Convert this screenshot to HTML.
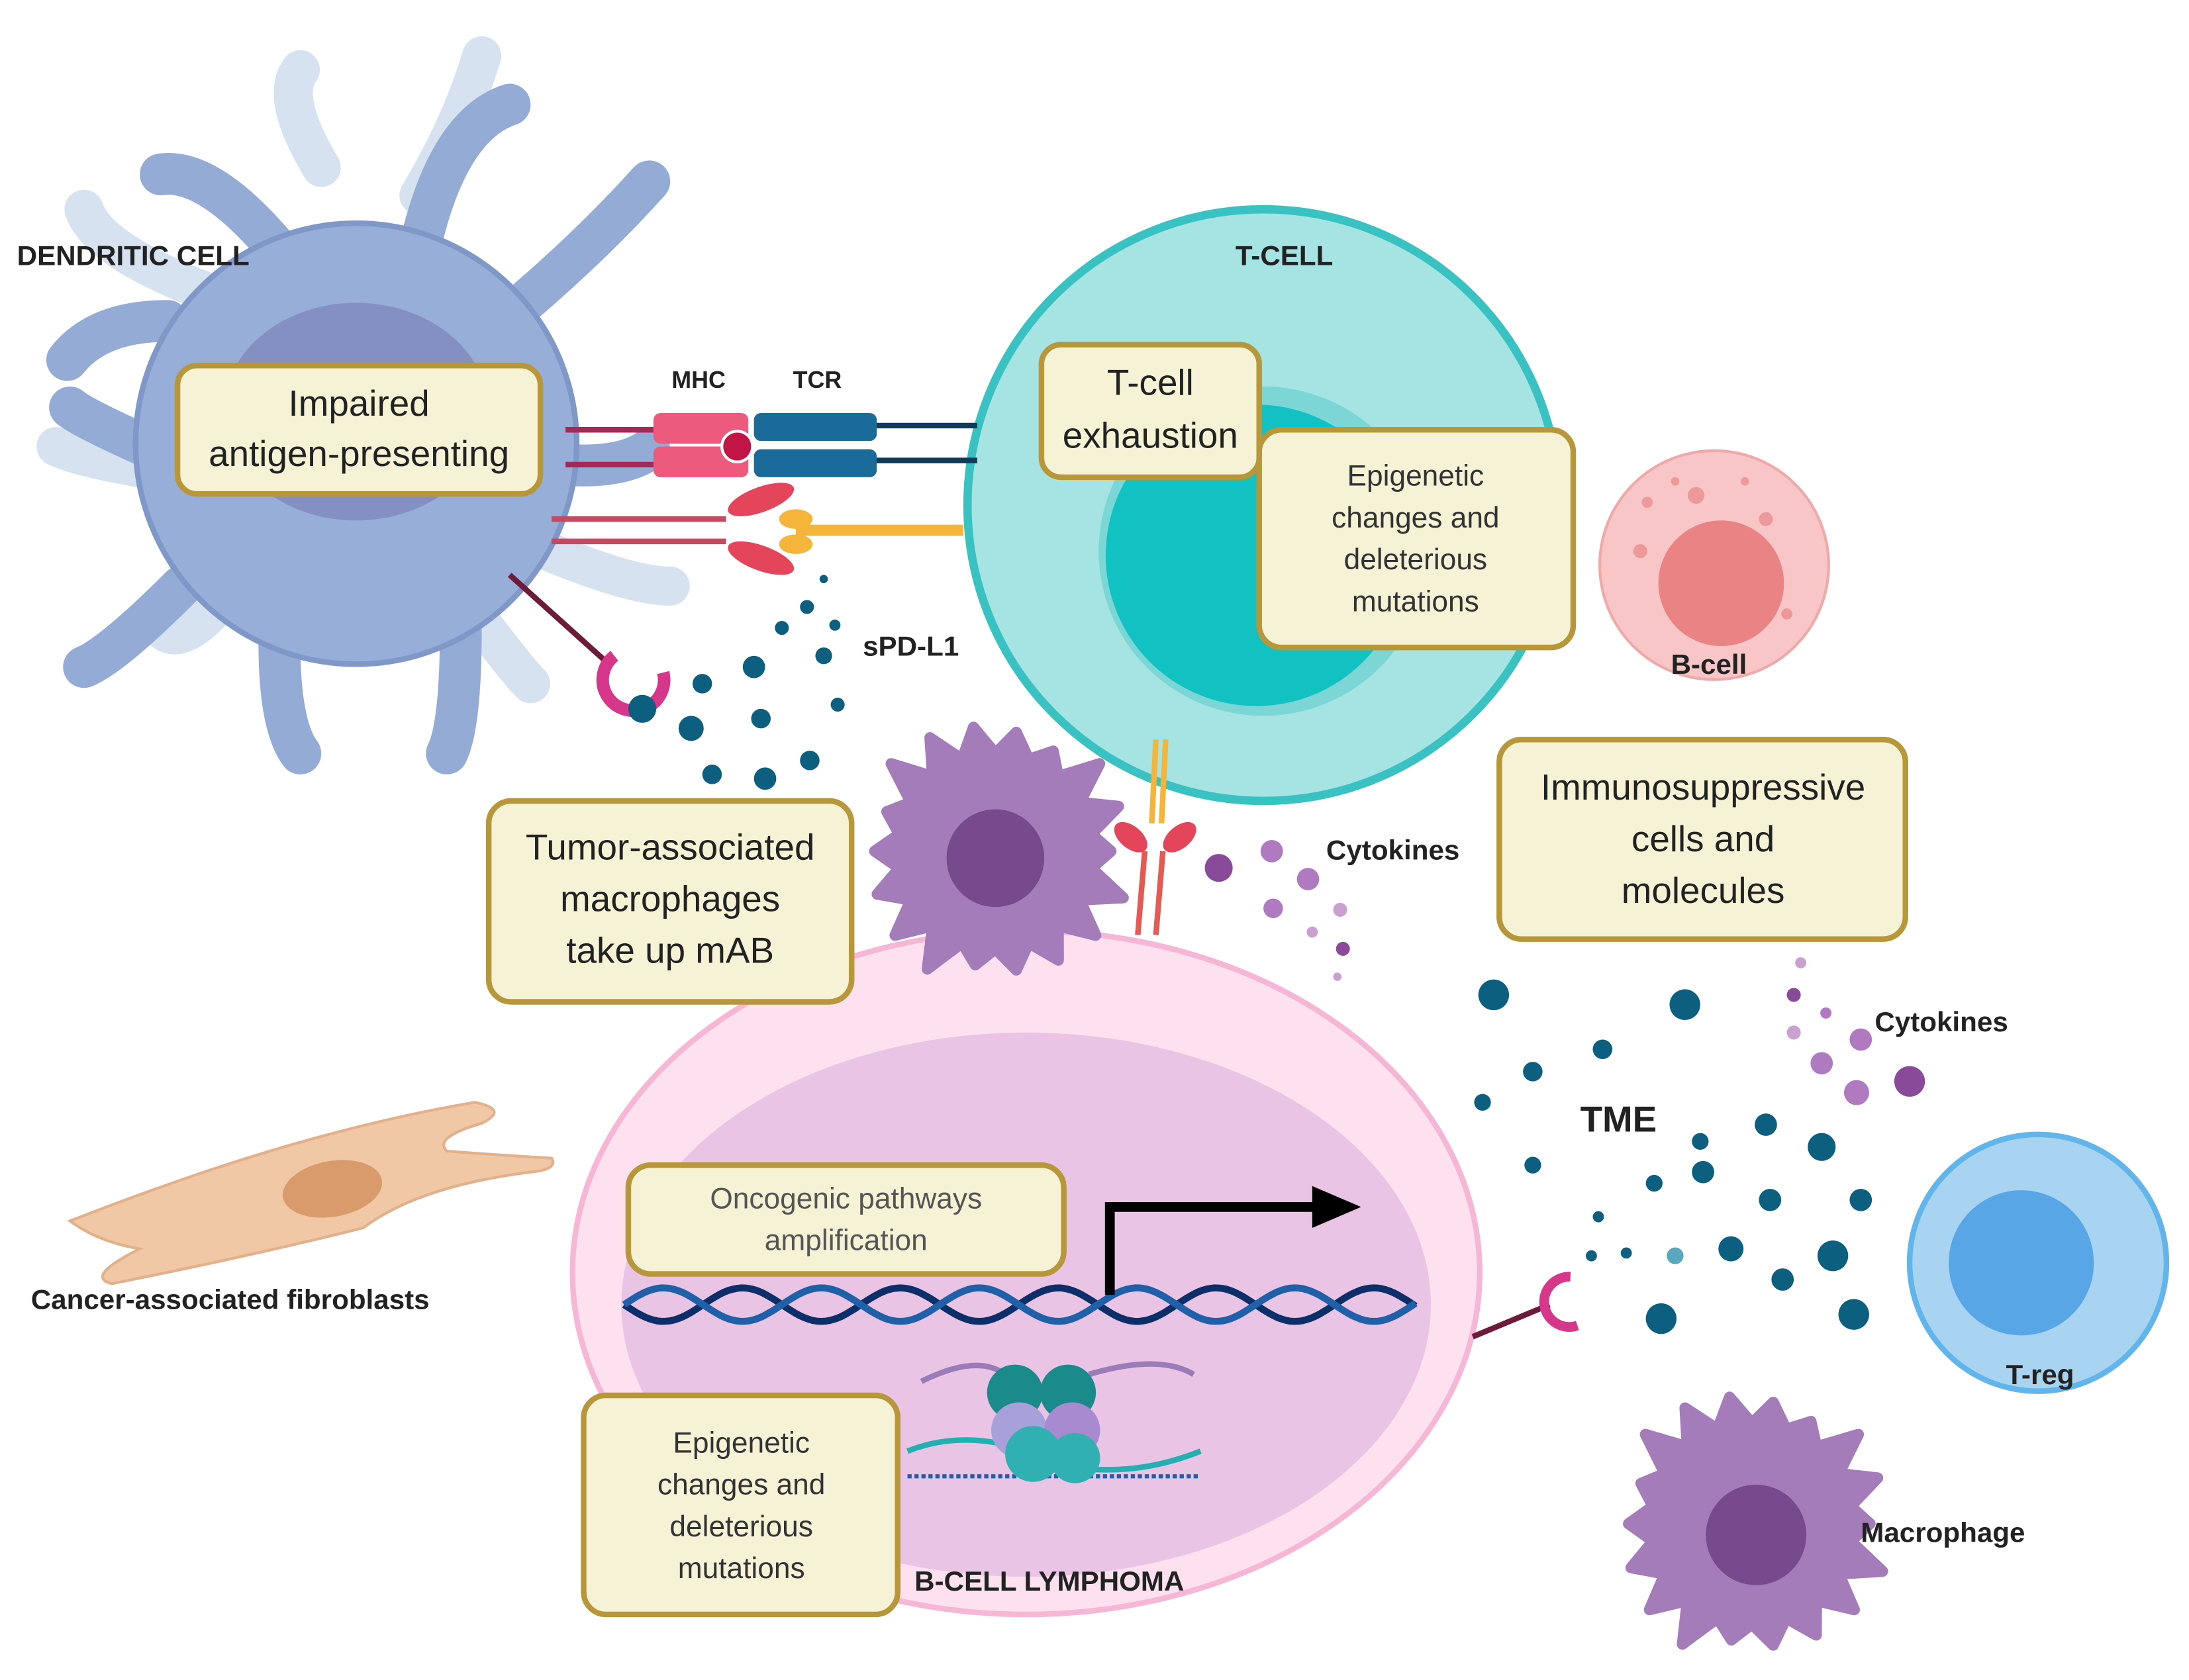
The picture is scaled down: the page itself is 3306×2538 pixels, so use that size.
<!DOCTYPE html>
<html><head><meta charset="utf-8">
<style>
html,body{margin:0;padding:0;background:#fff;}
svg{display:block;}
text{font-family:"Liberation Sans",sans-serif;}
.bx{fill:#f5f2d6;stroke:#b8963a;stroke-width:4;}
.bt{font-size:26px;fill:#222;text-anchor:middle;}
.lb{font-size:20px;font-weight:bold;fill:#222;}
</style></head><body>
<svg id="s" width="3306" height="2538" viewBox="0 0 1568 1204" xmlns="http://www.w3.org/2000/svg">
<rect width="1568" height="1204" fill="#fff"/>
<g stroke="#d6e2ef" stroke-width="28" stroke-linecap="round" fill="none">
<path d="M230 120 Q200 70 215 50"/>
<path d="M300 140 Q330 90 345 40"/>
<path d="M150 210 Q70 180 60 150"/>
<path d="M130 340 Q60 330 40 320"/>
<path d="M380 390 Q450 420 480 420"/>
<path d="M340 440 Q370 480 380 490"/>
<path d="M150 440 Q120 470 110 440"/>
</g>
<g stroke="#94acd5" stroke-width="30" stroke-linecap="round" fill="none">
<path d="M200 180 Q150 120 115 125"/>
<path d="M300 180 Q320 90 365 75"/>
<path d="M360 230 Q420 180 465 130"/>
<path d="M380 330 Q440 340 465 322"/>
<path d="M330 450 Q330 520 320 540"/>
<path d="M200 460 Q200 520 215 540"/>
<path d="M130 420 Q80 470 60 478"/>
<path d="M105 320 Q60 300 50 292"/>
<path d="M120 230 Q70 230 48 258"/>
</g>
<circle cx="255" cy="318" r="158" fill="#97aed8" stroke="#7f98c8" stroke-width="4"/>
<ellipse cx="255" cy="295" rx="95" ry="78" fill="#8590c2"/>
<path d="M50 875 Q140 840 210 820 Q280 800 340 790 Q365 795 345 805 Q310 815 320 825 Q360 828 395 830 Q400 838 380 840 Q300 850 260 880 Q180 900 80 920 Q60 915 100 895 Q70 890 50 875Z" fill="#f1c8a6" stroke="#e2b08a" stroke-width="2"/>
<ellipse cx="238" cy="852" rx="36" ry="20" fill="#d99b6b" transform="rotate(-10 238 852)"/>
<ellipse cx="735" cy="912" rx="325" ry="245" fill="#fde1ef" stroke="#f6b6d6" stroke-width="4"/>
<ellipse cx="735" cy="935" rx="290" ry="195" fill="#e9c4e4"/>
<circle cx="905" cy="362" r="212" fill="#a6e4e4" stroke="#3ac2c2" stroke-width="6"/>
<circle cx="905" cy="395" r="118" fill="#7cd6d6"/>
<circle cx="900" cy="398" r="108" fill="#12c2c3"/>
<circle cx="1228" cy="405" r="82" fill="#f8c6c6" stroke="#f0a9a9" stroke-width="2"/>
<circle cx="1233" cy="418" r="45" fill="#ea8383"/>
<g fill="#e99">
<circle cx="1180" cy="360" r="4"/><circle cx="1200" cy="345" r="3"/><circle cx="1265" cy="372" r="5"/><circle cx="1175" cy="395" r="5"/><circle cx="1280" cy="440" r="4"/><circle cx="1215" cy="355" r="6"/><circle cx="1250" cy="345" r="3"/>
</g>
<circle cx="1460" cy="905" r="92" fill="#a9d4f1" stroke="#62b5ea" stroke-width="4"/>
<circle cx="1448" cy="905" r="52" fill="#58a6e5"/>
<g stroke-width="4" fill="none">
<path d="M405 308 H470 M405 333 H470" stroke="#a32a55"/>
<path d="M625 305 H700 M625 330 H700" stroke="#123b5a"/>
<path d="M395 372 H520 M395 388 H520" stroke="#c34a60"/>
<path d="M570 380 H690" stroke="#f5b43a" stroke-width="8"/>
<path d="M365 412 L435 475" stroke="#6d1b3b" stroke-width="4"/>
<path d="M1055 958 L1110 935" stroke="#6d1b3b"/>
<path d="M815 670 L820 610 M828 670 L833 610" stroke="#e45a55"/>
<path d="M828 530 L825 590 M835 530 L832 590" stroke="#f5b43a"/>
</g>
<rect x="468" y="296" width="68" height="22" rx="5" fill="#ec5a7d"/>
<rect x="468" y="320" width="68" height="22" rx="5" fill="#ec5a7d"/>
<circle cx="528" cy="320" r="11" fill="#c01545" stroke="#fff" stroke-width="2"/>
<rect x="540" y="296" width="88" height="20" rx="5" fill="#1a6a9a"/>
<rect x="540" y="322" width="88" height="20" rx="5" fill="#1a6a9a"/>
<ellipse cx="545" cy="358" rx="25" ry="9" fill="#e3465a" transform="rotate(-20 545 358)"/>
<ellipse cx="545" cy="400" rx="25" ry="9" fill="#e3465a" transform="rotate(20 545 400)"/>
<ellipse cx="570" cy="372" rx="12" ry="7" fill="#f5b43a"/><ellipse cx="570" cy="390" rx="12" ry="7" fill="#f5b43a"/>
<path d="M440 470 A22 22 0 1 0 475 482" stroke="#d6378a" stroke-width="9" fill="none"/>
<path d="M1125 915 A18 18 0 1 0 1130 950" stroke="#d6378a" stroke-width="7" fill="none"/>
<ellipse cx="810" cy="600" rx="14" ry="8" fill="#e3465a" transform="rotate(40 810 600)"/>
<ellipse cx="845" cy="600" rx="14" ry="8" fill="#e3465a" transform="rotate(-40 845 600)"/>
<g fill="#0d5f80">
<circle cx="460" cy="508" r="10"/><circle cx="503" cy="490" r="7"/><circle cx="495" cy="522" r="9"/><circle cx="545" cy="515" r="7"/><circle cx="540" cy="478" r="8"/><circle cx="578" cy="435" r="5"/><circle cx="590" cy="470" r="6"/><circle cx="600" cy="505" r="5"/><circle cx="510" cy="555" r="7"/><circle cx="548" cy="558" r="8"/><circle cx="580" cy="545" r="7"/><circle cx="598" cy="448" r="4"/><circle cx="560" cy="450" r="5"/><circle cx="590" cy="415" r="3"/>
<circle cx="1070" cy="713" r="11"/><circle cx="1207" cy="720" r="11"/><circle cx="1148" cy="752" r="7"/><circle cx="1098" cy="768" r="7"/><circle cx="1062" cy="790" r="6"/><circle cx="1098" cy="835" r="6"/><circle cx="1218" cy="818" r="6"/><circle cx="1265" cy="806" r="8"/><circle cx="1305" cy="822" r="10"/><circle cx="1220" cy="840" r="8"/><circle cx="1185" cy="848" r="6"/><circle cx="1268" cy="860" r="8"/><circle cx="1333" cy="860" r="8"/><circle cx="1240" cy="895" r="9"/><circle cx="1313" cy="900" r="11"/><circle cx="1277" cy="917" r="8"/><circle cx="1190" cy="945" r="11"/><circle cx="1328" cy="942" r="11"/><circle cx="1145" cy="872" r="4"/><circle cx="1165" cy="898" r="4"/><circle cx="1140" cy="900" r="4"/><circle cx="1200" cy="900" r="6" fill="#58a8c0"/>
</g>
<g fill="#8a4a9a">
<circle cx="873" cy="622" r="10"/><circle cx="911" cy="610" r="8" fill="#b07ac0"/><circle cx="937" cy="630" r="8" fill="#b07ac0"/><circle cx="912" cy="651" r="7" fill="#b07ac0"/><circle cx="960" cy="652" r="5" fill="#c9a0d0"/><circle cx="940" cy="668" r="4" fill="#c9a0d0"/><circle cx="962" cy="680" r="5"/><circle cx="958" cy="700" r="3" fill="#c9a0d0"/>
<circle cx="1290" cy="690" r="4" fill="#c9a0d0"/><circle cx="1285" cy="713" r="5"/><circle cx="1308" cy="726" r="4" fill="#b07ac0"/><circle cx="1285" cy="740" r="5" fill="#c9a0d0"/><circle cx="1333" cy="745" r="8" fill="#b07ac0"/><circle cx="1305" cy="762" r="8" fill="#b07ac0"/><circle cx="1368" cy="775" r="11"/><circle cx="1330" cy="783" r="9" fill="#b07ac0"/>
</g>
<polygon id="m1" fill="#a57cba" stroke="#a57cba" stroke-width="8" stroke-linejoin="round"/>
<circle cx="713" cy="615" r="35" fill="#774a8d"/>
<polygon id="m2" fill="#a57cba" stroke="#a57cba" stroke-width="8" stroke-linejoin="round"/>
<circle cx="1258" cy="1100" r="36" fill="#774a8d"/>
<path id="d1" fill="none" stroke="#0c2f6a" stroke-width="5"/>
<path id="d2" fill="none" stroke="#2060a8" stroke-width="5"/>
<path d="M795 928 V865 H945" stroke="#000" stroke-width="7" fill="none"/>
<polygon points="940,850 975,865 940,880" fill="#000"/>
<path d="M650 1040 Q700 1020 760 1050 Q810 1060 860 1040" stroke="#22b0b0" stroke-width="4" fill="none"/>
<path d="M650 1058 H860" stroke="#2060a8" stroke-width="3" stroke-dasharray="3 2" fill="none"/>
<path d="M660 990 Q700 970 720 985 M780 985 Q830 970 855 985" stroke="#9b7cb8" stroke-width="4" fill="none"/>
<circle cx="727" cy="998" r="20" fill="#1a8a8a"/><circle cx="765" cy="998" r="20" fill="#1a8a8a"/>
<circle cx="730" cy="1025" r="20" fill="#a8a0d8"/><circle cx="768" cy="1025" r="20" fill="#a88ad0"/>
<circle cx="740" cy="1042" r="20" fill="#30b0b0"/><circle cx="770" cy="1045" r="18" fill="#30b0b0"/>
<rect class="bx" x="127" y="262" width="260" height="92" rx="14"/>
<text class="bt" x="257" y="298">Impaired</text><text class="bt" x="257" y="334">antigen-presenting</text>
<rect class="bx" x="746" y="247" width="156" height="95" rx="14"/>
<text class="bt" x="824" y="283">T-cell</text><text class="bt" x="824" y="321">exhaustion</text>
<rect class="bx" x="902" y="308" width="225" height="156" rx="16"/>
<g style="font-size:21px" fill="#333" text-anchor="middle"><text x="1014" y="348">Epigenetic</text><text x="1014" y="378">changes and</text><text x="1014" y="408">deleterious</text><text x="1014" y="438">mutations</text></g>
<rect class="bx" x="350" y="574" width="260" height="144" rx="16"/>
<text class="bt" x="480" y="616">Tumor-associated</text><text class="bt" x="480" y="653">macrophages</text><text class="bt" x="480" y="690">take up mAB</text>
<rect class="bx" x="1074" y="530" width="291" height="143" rx="16"/>
<text class="bt" x="1220" y="573">Immunosuppressive</text><text class="bt" x="1220" y="610">cells and</text><text class="bt" x="1220" y="647">molecules</text>
<rect class="bx" x="450" y="835" width="312" height="78" rx="16"/>
<g style="font-size:21px" fill="#555" text-anchor="middle"><text x="606" y="866">Oncogenic pathways</text><text x="606" y="896">amplification</text></g>
<rect class="bx" x="418" y="1000" width="225" height="157" rx="16"/>
<g style="font-size:21px" fill="#333" text-anchor="middle"><text x="531" y="1041">Epigenetic</text><text x="531" y="1071">changes and</text><text x="531" y="1101">deleterious</text><text x="531" y="1131">mutations</text></g>
<text class="lb" x="12" y="190">DENDRITIC CELL</text>
<text class="lb" x="885" y="190">T-CELL</text>
<text class="lb" x="481" y="278" style="font-size:17px">MHC</text>
<text class="lb" x="568" y="278" style="font-size:17px">TCR</text>
<text class="lb" x="618" y="470">sPD-L1</text>
<text class="lb" x="1197" y="483">B-cell</text>
<text class="lb" x="950" y="616">Cytokines</text>
<text class="lb" x="1343" y="739">Cytokines</text>
<text class="lb" x="1132" y="811" style="font-size:26px">TME</text>
<text class="lb" x="22" y="938">Cancer-associated fibroblasts</text>
<text class="lb" x="1437" y="992">T-reg</text>
<text class="lb" x="1333" y="1105">Macrophage</text>
<text class="lb" x="655" y="1140">B-CELL LYMPHOMA</text>
</svg>
<script>
function star(id,cx,cy,n,r1,r2){var p=[];for(var i=0;i<2*n;i++){var a=Math.PI*i/n,r=i%2?r2:r1*(0.9+0.2*((i*7)%5)/5);p.push((cx+r*Math.cos(a)).toFixed(1)+','+(cy+r*Math.sin(a)).toFixed(1));}document.getElementById(id).setAttribute('points',p.join(' '));}
star('m1',713,610,18,92,70);star('m2',1255,1092,18,94,72);
function helix(id,ph){var d='';for(var x=447;x<=1015;x+=3){var y=935+12*Math.sin((x-447)/18+ph);d+=(x==447?'M':'L')+x+' '+y.toFixed(1);}document.getElementById(id).setAttribute('d',d);}
helix('d1',0);helix('d2',Math.PI);
</script>
</body></html>
